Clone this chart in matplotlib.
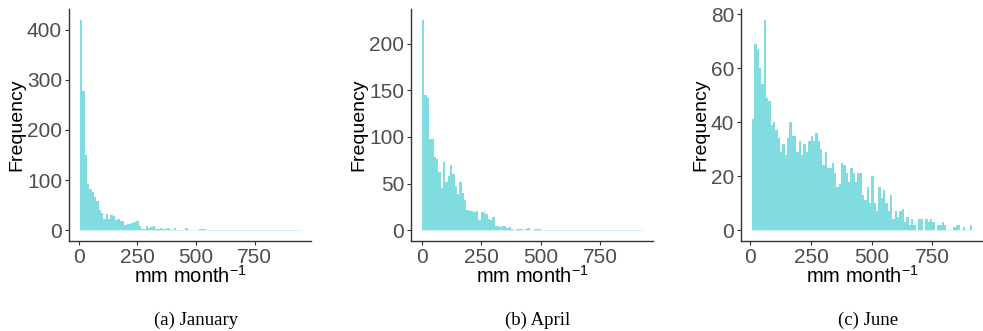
#! /usr/bin/env python3

import matplotlib
matplotlib.use("Agg")
import matplotlib.pyplot as plt
import numpy as np

# histogram counts per bin (94 bins per month)
jan_counts = [420, 278, 150, 93, 83, 76, 66, 58, 41, 35,
              23, 33, 23, 31, 28, 20, 23, 18, 18, 10,
              13, 13, 15, 17, 18, 8, 3, 2, 9, 5,
              7, 8, 3, 2, 4, 2, 3, 5, 2, 1,
              4, 1, 1, 1, 1, 4, 1, 1, 1, 0,
              1, 2, 3, 2, 1, 1, 1, 1, 0, 1,
              1, 1, 0, 0, 0, 0, 0, 0, 0, 0,
              1, 0, 0, 0, 0, 0, 0, 0, 1, 0,
              1, 0, 0, 1, 0, 1, 0, 0, 0, 0,
              0, 0, 0, 0]
apr_counts = [226, 145, 142, 98, 98, 79, 76, 62, 45, 73,
              52, 58, 70, 60, 47, 39, 52, 40, 32, 22,
              21, 21, 20, 21, 11, 20, 19, 17, 12, 11,
              14, 5, 5, 3, 5, 4, 2, 3, 1, 0,
              1, 1, 1, 0, 1, 2, 0, 0, 1, 1,
              1, 0, 0, 0, 0, 0, 0, 0, 0, 0,
              0, 0, 0, 0, 0, 0, 0, 0, 0, 0,
              0, 0, 0, 0, 0, 0, 0, 0, 0, 0,
              0, 0, 0, 0, 0, 0, 0, 0, 0, 0,
              0, 0, 0, 0]
jun_counts = [41, 69, 67, 60, 54, 78, 49, 48, 39, 40,
              37, 34, 29, 32, 28, 34, 40, 35, 35, 29,
              33, 28, 32, 29, 33, 35, 33, 36, 33, 30,
              24, 29, 23, 23, 25, 21, 16, 17, 25, 24,
              21, 18, 23, 21, 18, 21, 21, 13, 11, 16,
              10, 20, 10, 7, 16, 12, 15, 10, 7, 13,
              4, 7, 5, 7, 8, 3, 5, 2, 4, 2,
              0, 4, 4, 0, 4, 3, 4, 3, 0, 2,
              2, 3, 2, 0, 0, 0, 1, 2, 2, 0,
              1, 0, 0, 2]

# data range (mm month-1) covered by the bins of each month
jan_range = (5, 943)
apr_range = (2, 926)
jun_range = (7, 914)

months = ["(a) January", "(b) April", "(c) June"]
all_counts = [jan_counts, apr_counts, jun_counts]
all_ranges = [jan_range, apr_range, jun_range]
yticks = [[0, 100, 200, 300, 400], [0, 50, 100, 150, 200], [0, 20, 40, 60, 80]]
xticks = [0, 250, 500, 750]

fill = "#80DCDE"
plt.rcParams["font.family"] = ["Liberation Sans", "DejaVu Sans"]

fig = plt.figure(figsize=(9.83, 3.31), dpi=100)
lefts = [69, 411, 741]
W, H = 983, 331

for i in range(3):
    ax = fig.add_axes([lefts[i] / W, (H - 240.7) / H, 242 / W, 231.7 / H])
    counts = np.array(all_counts[i])
    lo, hi = all_ranges[i]
    edges = np.linspace(lo, hi, len(counts) + 1)
    ax.bar(edges[:-1], counts, width=np.diff(edges), align="edge",
           color=fill, linewidth=0)
    ax.hlines(0, lo, hi, color=fill, lw=0.5, alpha=0.5)

    span = hi - lo
    ax.set_xlim(lo - 0.05 * span, hi + 0.05 * span)
    ymax = counts.max()
    ax.set_ylim(-0.05 * ymax, 1.05 * ymax)
    ax.set_xticks(xticks)
    ax.set_yticks(yticks[i])

    for s in ["top", "right"]:
        ax.spines[s].set_visible(False)
    for s in ["left", "bottom"]:
        ax.spines[s].set_color("#333333")
        ax.spines[s].set_linewidth(1.0)
    ax.tick_params(colors="#333333", labelcolor="#4D4D4D", labelsize=15,
                   length=3, width=0.8, pad=2)

    ax.set_xlabel(r"mm month$^{\mathregular{-1}}$", fontsize=14.5, labelpad=-1)
    ax.set_ylabel("Frequency", fontsize=14, labelpad=1)

    cx = (lefts[i] + 121 + 6) / W
    fig.text(cx, 1 - 320 / H, months[i], ha="center", va="center",
             fontsize=13.5, family="Liberation Serif")

fig.savefig("out.png", dpi=100)
